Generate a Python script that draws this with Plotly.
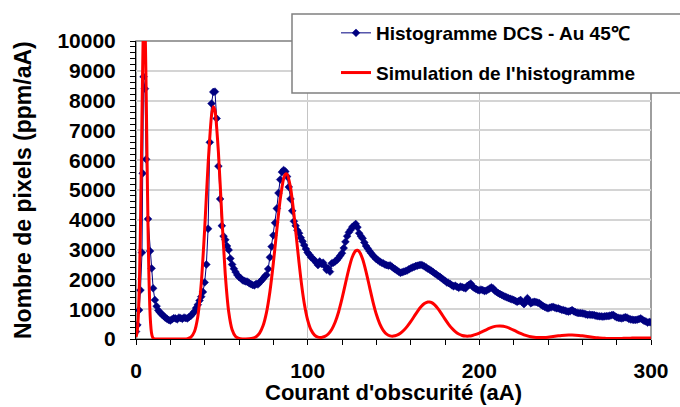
import plotly.graph_objects as go

# Measured dark-current histogram (DCS, 45 °C): current in aA, density in ppm/aA
dcs_current = [0, 0.8, 1.8, 2.6, 3.5, 3.9, 4.4, 5.2, 5.9, 7.0, 8.2, 9.1, 10.0] + list(range(11, 301))
dcs_density = [
    250, 470, 970, 1640, 2900, 5560, 8800, 8400, 6030, 4030, 2950, 2370, 1700,
    # 11 .. 50
    1310, 1100, 960, 890, 830, 780, 720, 680, 640, 620,
    660, 700, 690, 660, 720, 700, 680, 720, 700, 690,
    740, 780, 850, 920, 1040, 1150, 1290, 1420, 1580, 1900,
    2500, 3700, 6600, 7900, 8290, 8300, 7400, 5800, 4700, 3800,
    # 51 .. 100
    3450, 3330, 3120, 2990, 2700, 2500, 2360, 2250, 2150, 2080,
    2040, 1980, 1950, 1930, 1920, 1870, 1840, 1810, 1800, 1850,
    1830, 1900, 1960, 2020, 2100, 2150, 2350, 2740, 3100, 3480,
    3900, 4380, 4900, 5350, 5600, 5670, 5620, 5450, 5100, 4700,
    4300, 3950, 3800, 3650, 3550, 3400, 3280, 3150, 3020, 2900,
    # 101 .. 150
    2830, 2740, 2700, 2640, 2560, 2480, 2600, 2520, 2560, 2450,
    2320, 2370, 2260, 2540, 2560, 2600, 2650, 2720, 2800, 2880,
    3050, 3260, 3450, 3580, 3660, 3760, 3800, 3860, 3750, 3550,
    3450, 3380, 3240, 3120, 3040, 2950, 2880, 2800, 2750, 2680,
    2640, 2600, 2560, 2540, 2500, 2480, 2460, 2470, 2430, 2380,
    # 151 .. 200
    2340, 2300, 2260, 2220, 2240, 2260, 2280, 2300, 2340, 2370,
    2400, 2420, 2450, 2460, 2480, 2490, 2470, 2440, 2400, 2360,
    2330, 2290, 2250, 2200, 2170, 2120, 2090, 2040, 1990, 1960,
    1900, 1880, 1850, 1800, 1770, 1790, 1750, 1720, 1760, 1740,
    1720, 1700, 1780, 1820, 1860, 1760, 1720, 1680, 1650, 1630,
    # 201 .. 250
    1660, 1640, 1610, 1620, 1660, 1690, 1730, 1700, 1620, 1580,
    1540, 1510, 1480, 1450, 1420, 1400, 1370, 1350, 1330, 1310,
    1280, 1250, 1270, 1310, 1240, 1170, 1260, 1370, 1280, 1200,
    1230, 1250, 1240, 1220, 1200, 1150, 1110, 1080, 1050, 1030,
    1050, 1070, 1080, 1050, 1030, 1030, 1000, 980, 970, 950,
    # 251 .. 300
    930, 920, 940, 970, 930, 900, 880, 870, 870, 860,
    850, 830, 810, 820, 810, 810, 800, 780, 770, 760,
    760, 750, 760, 770, 770, 780, 800, 810, 760, 730,
    710, 700, 690, 710, 730, 720, 680, 660, 650, 640,
    640, 650, 670, 690, 650, 610, 590, 550, 570, 560,
]

# Simulated histogram
sim_current = [
    0, 0.5, 1, 1.5, 2, 2.5, 3, 3.5, 4, 4.5, 5, 5.5, 6, 6.5, 7, 7.5, 8, 8.5, 9, 9.5, 10, 10.5, 11, 12,
    14, 16, 18, 20, 22, 24, 26, 28, 30, 32, 34, 36, 38, 40, 42, 44, 45, 46, 48, 50,
    52, 54, 56, 58, 60, 62, 64, 66, 68, 70, 72, 74, 76, 78, 80, 82, 84, 86, 87, 88, 90,
    92, 94, 96, 98, 100, 102, 104, 106, 108, 110, 112, 114, 116, 118, 120, 122, 124, 126, 128, 129, 130,
    132, 134, 136, 138, 140, 142, 144, 146, 148, 150, 152, 154, 156, 158, 160, 162, 164, 166, 168, 170, 171,
    172, 174, 176, 178, 180, 182, 184, 186, 188, 190, 192, 194, 196, 198, 200, 202, 204, 206, 208, 210,
    212, 214, 216, 218, 220, 222, 224, 226, 228, 230, 232, 234, 236, 238, 240, 242, 244, 246, 248, 250,
    252, 254, 256, 258, 260, 262, 264, 266, 268, 270, 272, 274, 276, 278, 280, 282, 284, 286, 288, 290,
    292, 294, 296, 298, 300,
]
sim_density = [
    66, 181, 444, 978, 1927, 3394, 5354, 7556, 9541, 10782, 10903, 9865, 7987, 5787, 3752, 2177, 1130, 525, 218, 81, 27, 10, 3, 0,
    0, 0, 0, 0, 0, 0, 0, 2, 13, 63, 242, 747, 1856, 3689, 5873, 7495, 7791, 7663, 6277, 4120,
    2167, 913, 308, 83, 18, 4, 3, 9, 28, 79, 198, 441, 884, 1585, 2541, 3647, 4682, 5379, 5531, 5531, 5089,
    4190, 3086, 2035, 1200, 635, 301, 133, 63, 52, 86, 168, 319, 560, 907, 1352, 1859, 2356, 2751, 2961, 2979, 2937,
    2684, 2262, 1756, 1256, 830, 509, 292, 165, 106, 98, 129, 194, 293, 423, 581, 755, 930, 1082, 1192, 1243, 1243,
    1226, 1144, 1010, 844, 668, 502, 358, 245, 166, 118, 97, 97, 118, 153, 200, 254, 309, 362, 405, 432,
    440, 428, 397, 352, 299, 242, 188, 141, 103, 75, 57, 48, 47, 52, 62, 76, 91, 106, 119, 129,
    134, 134, 129, 119, 106, 91, 75, 59, 45, 34, 26, 20, 17, 16, 17, 19, 22, 25, 29, 32,
    34, 35, 35, 33, 31,
]

x_ticks = [0, 100, 200, 300]
y_ticks = list(range(0, 10001, 1000))

FONT = "Liberation Sans, Arial, sans-serif"
NAVY = "#000080"
RED = "#FF0000"

fig = go.Figure()
fig.add_trace(go.Scatter(
    x=dcs_current, y=dcs_density, name="Histogramme DCS - Au 45℃",
    mode="lines+markers", legendgroup="a",
    line=dict(color=NAVY, width=1),
    marker=dict(symbol="diamond", size=6, color=NAVY, line=dict(color=NAVY, width=0.5)),
))
fig.add_trace(go.Scatter(
    x=sim_current, y=sim_density, name="Simulation de l'histogramme",
    mode="lines", legendgroup="b",
    line=dict(color=RED, width=3, shape="spline", smoothing=0.6),
))

fig.update_layout(
    width=680, height=407,
    margin=dict(l=136, r=29, t=41, b=68),
    paper_bgcolor="white", plot_bgcolor="white",
    font=dict(family=FONT, color="black"),
    showlegend=True,
    legend=dict(
        x=(336 - 136) / 515, y=(339 - 14) / 298, xanchor="left", yanchor="top",
        bgcolor="rgba(0,0,0,0)", borderwidth=0,
        font=dict(family=FONT, size=19, weight="bold", color="black"),
        tracegroupgap=12, itemwidth=30,
    ),
    xaxis=dict(
        range=[0, 300], tickvals=x_ticks, ticks="outside", ticklen=5, tickcolor="black",
        showline=True, linecolor="black", linewidth=1,
        showgrid=True, gridcolor="#c4c4c4", gridwidth=1, zeroline=False,
        tickfont=dict(family=FONT, size=21, weight="bold"), ticklabelstandoff=8,
        minor=dict(dtick=20, ticks="outside", ticklen=5, tickcolor="black", showgrid=False),
    ),
    yaxis=dict(
        range=[0, 10000], tickvals=y_ticks, tickformat="d", ticks="outside", ticklen=5, tickcolor="black",
        showline=True, linecolor="black", linewidth=1,
        showgrid=True, gridcolor="#d4d4d4", gridwidth=2, zeroline=False,
        tickfont=dict(family=FONT, size=21, weight="bold"), ticklabelstandoff=10,
        minor=dict(dtick=200, ticks="outside", ticklen=5, tickcolor="black", showgrid=False),
    ),
    shapes=[
        # plot-area frame (top and right edges)
        dict(type="rect", xref="paper", yref="paper", x0=0, x1=1, y0=0, y1=1,
             line=dict(color="#7f7f7f", width=1.5), layer="between"),
        # legend box
        dict(type="rect", xref="paper", yref="paper",
             x0=(292 - 136) / 515, x1=(700 - 136) / 515,
             y0=(339 - 93) / 298, y1=(339 - 14) / 298,
             fillcolor="white", line=dict(color="#808080", width=1.5), layer="above"),
    ],
    annotations=[
        dict(text="Courant d'obscurité (aA)", xref="paper", yref="paper",
             x=0.5, y=(339 - 392) / 298, xanchor="center", yanchor="middle", showarrow=False,
             font=dict(family=FONT, size=22, weight="bold")),
        dict(text="Nombre de pixels (ppm/aA)", xref="paper", yref="paper",
             x=(23 - 136) / 515, y=0.5, xanchor="center", yanchor="middle", showarrow=False,
             textangle=-90, font=dict(family=FONT, size=23, weight="bold")),
    ],
)

fig.write_html("out.html")
